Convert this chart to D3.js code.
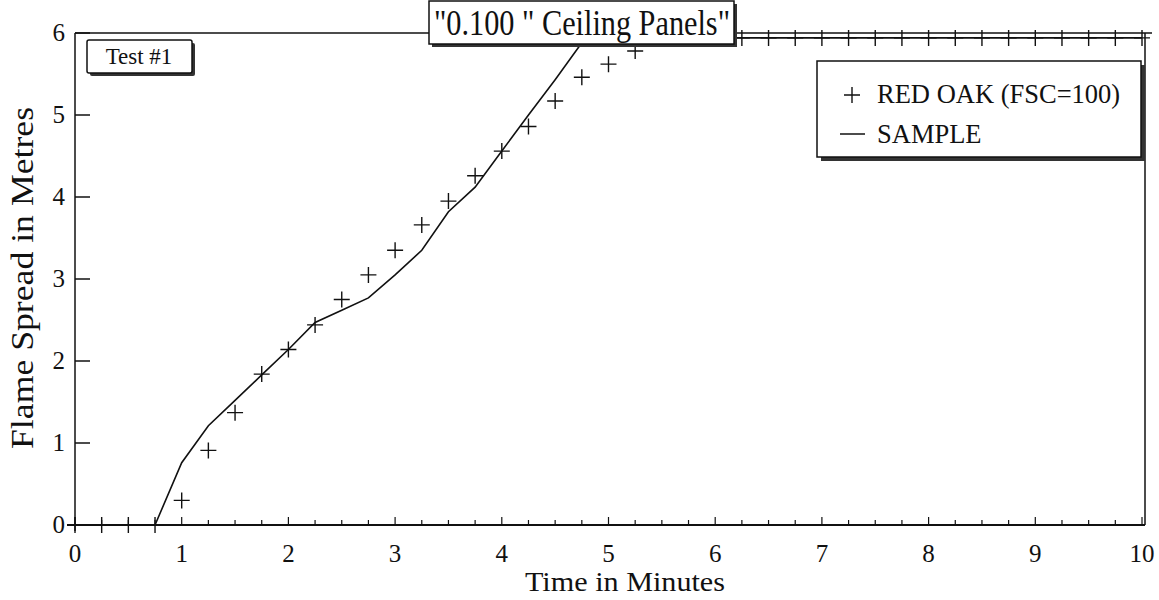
<!DOCTYPE html>
<html><head><meta charset="utf-8">
<script src="https://cdn.jsdelivr.net/npm/d3@7"></script>
<style>body{margin:0;background:#fff}svg{display:block}text{font-family:"Liberation Serif","Times New Roman",serif;fill:#111}</style>
</head><body>
<svg id="c" width="1159" height="600"></svg>
<script>
const redOakTime = [0,0.25,0.5,0.75,1,1.25,1.5,1.75,2,2.25,2.5,2.75,3,3.25,3.5,3.75,4,4.25,4.5,4.75,5,5.25,5.5,5.75,6,6.25,6.5,6.75,7,7.25,7.5,7.75,8,8.25,8.5,8.75,9,9.25,9.5,9.75,10];
const redOakSpread = [0,0,0,0,0.3,0.91,1.37,1.84,2.14,2.44,2.75,3.05,3.35,3.66,3.95,4.26,4.56,4.86,5.17,5.46,5.62,5.78,5.94,5.94,5.94,5.94,5.94,5.94,5.94,5.94,5.94,5.94,5.94,5.94,5.94,5.94,5.94,5.94,5.94,5.94,5.94];
const sampleTime = [0,0.75,1,1.25,1.5,1.75,2,2.25,2.5,2.75,3,3.25,3.5,3.75,4,4.25,4.5,4.75,5,10];
const sampleSpread = [0,0,0.76,1.21,1.52,1.83,2.14,2.47,2.62,2.77,3.05,3.35,3.82,4.12,4.56,5.0,5.43,5.88,5.94,5.94];
const xTicks = [0,1,2,3,4,5,6,7,8,9,10];
const yTicks = [0,1,2,3,4,5,6];
const titleText = "\"0.100 \" Ceiling Panels\"";
const testLabel = "Test #1";
const legendLabels = ["RED OAK (FSC=100)","SAMPLE"];
const xLabel = "Time in Minutes";
const yLabel = "Flame Spread in Metres";

const svg = d3.select("#c");
const x = d3.scaleLinear().domain([0,10]).range([75,1142]);
const y = d3.scaleLinear().domain([0,6]).range([525,33]);
const ink = "#111";

// frame
svg.append("line").attr("x1",x(0)).attr("x2",x(10)+10).attr("y1",y(6)).attr("y2",y(6)).attr("stroke",ink).attr("stroke-width",1.5);
svg.append("line").attr("x1",x(10)+3).attr("x2",x(10)+3).attr("y1",y(6)).attr("y2",y(0)).attr("stroke",ink).attr("stroke-width",1.5);

// x axis
const xMinor = d3.range(0,10.001,0.25);
const gx = svg.append("g").attr("transform",`translate(0,${y(0)})`);
gx.append("line").attr("x1",x(0)-8).attr("x2",x(10)+3).attr("stroke",ink).attr("stroke-width",2);
gx.selectAll("line.mt").data(xMinor).join("line").attr("class","mt")
  .attr("x1",d=>x(d)).attr("x2",d=>x(d)).attr("y1",0).attr("y2",d=>Number.isInteger(d)?-8:-5)
  .attr("stroke",ink).attr("stroke-width",1.2);
gx.selectAll("text").data(xTicks).join("text")
  .attr("x",d=>x(d)).attr("y",37).attr("text-anchor","middle").attr("font-size",25).text(d=>d);

// y axis
const gy = svg.append("g");
gy.append("line").attr("x1",x(0)).attr("x2",x(0)).attr("y1",y(6)).attr("y2",y(0)+6).attr("stroke",ink).attr("stroke-width",1.5);
gy.selectAll("line.t").data(yTicks).join("line").attr("class","t")
  .attr("x1",x(0)).attr("x2",x(0)+15).attr("y1",d=>y(d)).attr("y2",d=>y(d)).attr("stroke",ink).attr("stroke-width",1.5);
gy.selectAll("text").data(yTicks).join("text")
  .attr("x",x(0)-10).attr("y",d=>y(d)+8).attr("text-anchor","end").attr("font-size",25).text(d=>d);

svg.append("text").attr("x",525).attr("y",591).attr("text-anchor","start").attr("font-size",28)
  .attr("textLength",200).attr("lengthAdjust","spacingAndGlyphs").text(xLabel);
svg.append("text").attr("transform",`translate(33,${278}) rotate(-90)`).attr("text-anchor","middle").attr("font-size",32)
  .attr("textLength",342).attr("lengthAdjust","spacingAndGlyphs").text(yLabel);

// sample line
const line = d3.line().x(d=>x(d[0])).y(d=>y(d[1]));
svg.append("path").datum(sampleTime.map((t,i)=>[t,sampleSpread[i]]))
  .attr("d",line).attr("fill","none").attr("stroke",ink).attr("stroke-width",1.6);

// red oak crosses
const cs = 8;
svg.selectAll("path.ro").data(redOakTime.map((t,i)=>[t,redOakSpread[i]])).join("path").attr("class","ro")
  .attr("d",d=>`M${x(d[0])-cs},${y(d[1])}H${x(d[0])+cs}M${x(d[0])},${y(d[1])-cs}V${y(d[1])+cs}`)
  .attr("stroke",ink).attr("stroke-width",1.4).attr("fill","none");

// boxes with shadow
function shadowBox(x0,y0,w,h,sh,r){
  svg.append("rect").attr("x",x0+sh).attr("y",y0+sh).attr("width",w).attr("height",h).attr("rx",r).attr("fill","#333");
  svg.append("rect").attr("x",x0).attr("y",y0).attr("width",w).attr("height",h).attr("rx",r).attr("fill","#fff").attr("stroke",ink).attr("stroke-width",1.5);
}
// title
shadowBox(429,1,305,43,3,0);
svg.append("text").attr("x",582).attr("y",35).attr("text-anchor","middle").attr("font-size",35)
  .attr("textLength",296).attr("lengthAdjust","spacingAndGlyphs").text(titleText);
// test label
shadowBox(87,40,105,33,3,2);
svg.append("text").attr("x",139).attr("y",64).attr("text-anchor","middle").attr("font-size",23).text(testLabel);
// legend
shadowBox(817,61,324,96,4,0);
const lg = svg.append("g");
lg.append("path").attr("d",`M${844},95H${860}M${852},87V${103}`).attr("stroke",ink).attr("stroke-width",1.4);
lg.append("line").attr("x1",840).attr("x2",865).attr("y1",134).attr("y2",134).attr("stroke",ink).attr("stroke-width",1.5);
lg.selectAll("text").data(legendLabels).join("text")
  .attr("x",877).attr("y",(d,i)=>103+i*40).attr("font-size",26.5).text(d=>d);
</script>
</body></html>
